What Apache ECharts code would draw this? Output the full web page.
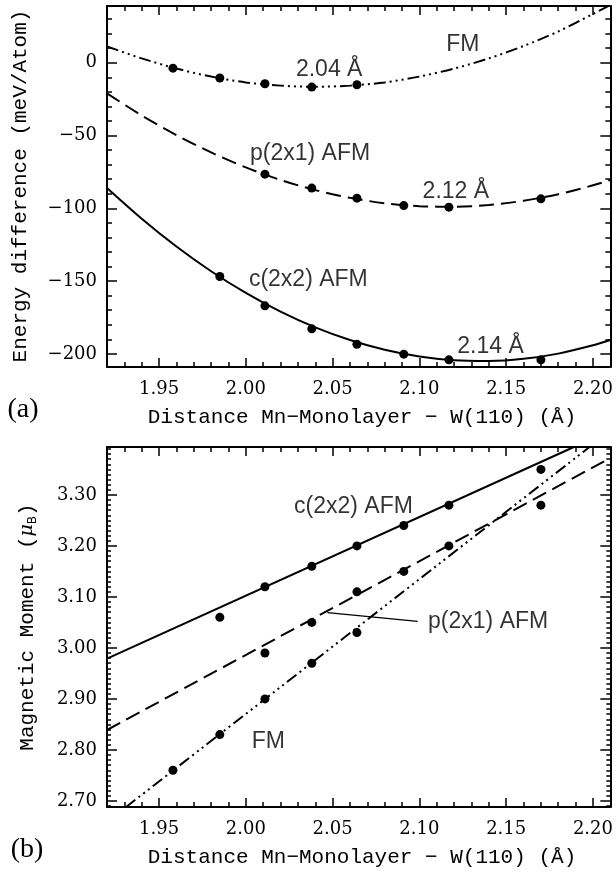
<!DOCTYPE html>
<html>
<head>
<meta charset="utf-8">
<script src="https://cdn.jsdelivr.net/npm/echarts@6/dist/echarts.min.js"></script>
<style>
  html, body { margin: 0; padding: 0; background: #fff; }
  #main { width: 616px; height: 875px; }
</style>
</head>
<body>
<div id="main"></div>
<script>
// ---- data ----
// calculated points (distance in Å)
const fmDist = [1.958, 1.985, 2.011, 2.038, 2.064];
const pDist = [2.011, 2.038, 2.064, 2.091, 2.117, 2.170];
const cDist = [1.985, 2.011, 2.038, 2.064, 2.091, 2.117, 2.170];

// (a) energy difference, meV/atom
const fmEnergy = [-3.7, -10.5, -14.4, -16.7, -15.1];
const pEnergy = [-76.5, -86.1, -93, -98.1, -99.2, -93.5];
const cEnergy = [-146.8, -167, -182.8, -193.4, -200.2, -204.1, -204.1];

// (a) fitted curves
const curveDist = [1.92, 1.94, 1.96, 1.98, 2.00, 2.02, 2.04, 2.06, 2.08, 2.10, 2.12, 2.14, 2.16, 2.18, 2.20, 2.21];
const fmCurve = [11.2, 3, -4, -9.5, -13.5, -15.7, -16.5, -15.7, -13.5, -9.5, -4, 3, 11.5, 21.5, 33.5, 39.7];
const pCurve = [-21, -36.2, -49.7, -61.6, -71.9, -80.5, -87.5, -92.8, -96.5, -98.5, -98.9, -97.7, -94.8, -90.3, -84.2, -80.5];
const cCurve = [-86, -107.1, -126.2, -143.2, -158.1, -171, -181.8, -190.5, -197.2, -201.8, -204.4, -204.9, -203.4, -199.8, -194.1, -190.5];

// (b) magnetic moment, mu_B
const fmMoment = [2.76, 2.83, 2.90, 2.97, 3.03];
const pMoment = [2.99, 3.05, 3.11, 3.15, 3.20, 3.28];
const cMoment = [3.06, 3.12, 3.16, 3.20, 3.24, 3.28, 3.35];

// (b) fitted straight lines (end points)
const fmLine = [[1.931, 2.688], [2.198, 3.394]];
const pLine = [[1.92, 2.839], [2.21, 3.3725]];
const cLine = [[1.92, 2.979], [2.189, 3.394]];
const pPointer = [[2.047, 3.069], [2.099, 3.052]];

// annotations [text, x, y]
const notesA = [
  ['FM', 2.125, 12.4],
  ['2.04 Å', 2.048, -4.4],
  ['p(2x1) AFM', 2.037, -62.5],
  ['2.12 Å', 2.121, -88.4],
  ['c(2x2) AFM', 2.036, -149],
  ['2.14 Å', 2.141, -195]
];
const notesB = [
  ['c(2x2) AFM', 2.062, 3.277],
  ['FM', 2.013, 2.816]
];
const noteBLeft = ['p(2x1) AFM', 2.105, 3.051];

// axes
const xRange = [1.92, 2.21];
const yRangeA = [-209, 39];
const yRangeB = [2.688, 3.394];
const xMajor = [1.95, 2.00, 2.05, 2.10, 2.15, 2.20];
const yMajorA = [-200, -150, -100, -50, 0];
const yMajorB = [2.70, 2.80, 2.90, 3.00, 3.10, 3.20, 3.30];

const xMinor = [];
for (let k = 192; k <= 221; k++) if (k % 5) xMinor.push(k / 100);
const yMinorA = [];
for (let k = -200; k <= 30; k += 10) if (k % 50) yMinorA.push(k);
const yMinorB = [];
for (let k = 269; k <= 339; k++) if (k % 10) yMinorB.push(k / 100);

const xTitle = 'Distance Mn\u2212Monolayer \u2212 W(110) (\u00c5)';

// ---- helpers ----
const black = '#000';
const tickFont = { fontFamily: 'DejaVu Serif', fontSize: 18, color: black };
const noteFont = { fontFamily: 'Liberation Sans', fontSize: 23, color: black };
const hiddenLine = { show: false, onZero: false };
const boxLine = { show: true, onZero: false, lineStyle: { color: black, width: 2 } };
const tick = (vals, len) => ({ show: true, inside: true, length: len, customValues: vals, lineStyle: { color: black, width: 1.5 } });

function xAxesFor(g) {
  const base = {
    type: 'value', gridIndex: g, min: xRange[0], max: xRange[1],
    splitLine: { show: false }, axisLine: hiddenLine, axisLabel: { show: false }
  };
  return [
    Object.assign({}, base, {
      position: 'bottom', axisLine: boxLine, axisTick: tick(xMajor, 9),
      axisLabel: Object.assign({ show: true, customValues: xMajor, margin: 13, formatter: v => v.toFixed(2) }, tickFont)
    }),
    Object.assign({}, base, { position: 'bottom', axisTick: tick(xMinor, 5) }),
    Object.assign({}, base, { position: 'top', axisLine: boxLine, axisTick: tick(xMajor, 9) }),
    Object.assign({}, base, { position: 'top', axisTick: tick(xMinor, 5) })
  ];
}

function yAxesFor(g, range, major, minor, minorLen, fmt) {
  const base = {
    type: 'value', gridIndex: g, min: range[0], max: range[1],
    splitLine: { show: false }, axisLine: hiddenLine, axisLabel: { show: false }
  };
  return [
    Object.assign({}, base, {
      position: 'left', axisLine: boxLine, axisTick: tick(major, 10),
      axisLabel: Object.assign({ show: true, customValues: major, margin: 10, formatter: fmt }, tickFont)
    }),
    Object.assign({}, base, { position: 'left', axisTick: tick(minor, minorLen) }),
    Object.assign({}, base, { position: 'right', axisLine: boxLine, axisTick: tick(major, 10) }),
    Object.assign({}, base, { position: 'right', axisTick: tick(minor, minorLen) })
  ];
}

const zip = (xs, ys) => xs.map((x, i) => [x, ys[i]]);

function curve(g, data, type) {
  return {
    type: 'line', xAxisIndex: g * 4, yAxisIndex: g * 4, data: data,
    smooth: 0.3, symbol: 'none', silent: true, z: 2,
    lineStyle: { color: black, width: 2, type: type }
  };
}
function dots(g, data) {
  return {
    type: 'scatter', xAxisIndex: g * 4, yAxisIndex: g * 4, data: data,
    symbol: 'circle', symbolSize: 9, itemStyle: { color: black, opacity: 1 }, z: 4, silent: true
  };
}
function notes(g, list, align) {
  return {
    type: 'scatter', xAxisIndex: g * 4, yAxisIndex: g * 4,
    data: list.map(n => ({ name: n[0], value: [n[1], n[2]] })),
    symbolSize: 1, itemStyle: { color: 'rgba(0,0,0,0)' }, z: 5, silent: true,
    label: Object.assign({
      show: true, position: 'inside', align: align, verticalAlign: 'middle',
      formatter: p => p.name
    }, noteFont)
  };
}

const dashDots = [12, 4, 2, 4, 2, 4, 2, 4];
const dashes = [15, 7];

const option = {
  animation: false,
  backgroundColor: '#fff',
  grid: [
    { left: 107, top: 6, width: 506, height: 361 },
    { left: 107, top: 447, width: 506, height: 360 }
  ],
  xAxis: xAxesFor(0).concat(xAxesFor(1)),
  yAxis: yAxesFor(0, yRangeA, yMajorA, yMinorA, 5, v => String(v).replace('-', '\u2212'))
    .concat(yAxesFor(1, yRangeB, yMajorB, yMinorB, 4, v => v.toFixed(2))),
  series: [
    // (a)
    curve(0, zip(curveDist, fmCurve), dashDots),
    curve(0, zip(curveDist, pCurve), dashes),
    curve(0, zip(curveDist, cCurve), 'solid'),
    dots(0, zip(fmDist, fmEnergy)),
    dots(0, zip(pDist, pEnergy)),
    dots(0, zip(cDist, cEnergy)),
    notes(0, notesA, 'center'),
    // (b)
    curve(1, fmLine, dashDots),
    curve(1, pLine, dashes),
    curve(1, cLine, 'solid'),
    Object.assign(curve(1, pPointer, 'solid'), { lineStyle: { color: black, width: 1.3 } }),
    dots(1, zip(fmDist, fmMoment)),
    dots(1, zip(pDist, pMoment)),
    dots(1, zip(cDist, cMoment)),
    notes(1, notesB, 'center'),
    notes(1, [noteBLeft], 'left')
  ],
  graphic: [
    { type: 'text', x: 20, y: 186, rotation: Math.PI / 2,
      style: { text: 'Energy difference (meV/Atom)', font: '21px "Liberation Mono"', fill: black, textAlign: 'center', textVerticalAlign: 'middle' } },
    { type: 'text', x: 27, y: 627, rotation: Math.PI / 2,
      style: {
        text: 'Magnetic Moment ({mu|\u03bc}{sub|B})', font: '21px "Liberation Mono"', fill: black,
        textAlign: 'center', textVerticalAlign: 'middle',
        rich: {
          mu: { fontFamily: 'DejaVu Serif', fontStyle: 'italic', fontSize: 19, fill: black },
          sub: { fontFamily: 'DejaVu Sans', fontSize: 12, fill: black, padding: [12, 0, 0, 0] }
        }
      } },
    { type: 'text', x: 362, y: 417,
      style: { text: xTitle, font: '21px "Liberation Mono"', fill: black, textAlign: 'center', textVerticalAlign: 'middle' } },
    { type: 'text', x: 362, y: 857,
      style: { text: xTitle, font: '21px "Liberation Mono"', fill: black, textAlign: 'center', textVerticalAlign: 'middle' } },
    { type: 'text', x: 23, y: 410,
      style: { text: '(a)', font: '28px "Liberation Serif"', fill: black, textAlign: 'center', textVerticalAlign: 'middle' } },
    { type: 'text', x: 27, y: 850,
      style: { text: '(b)', font: '28px "Liberation Serif"', fill: black, textAlign: 'center', textVerticalAlign: 'middle' } }
  ]
};

const chart = echarts.init(document.getElementById('main'));
chart.setOption(option);
</script>
</body>
</html>
